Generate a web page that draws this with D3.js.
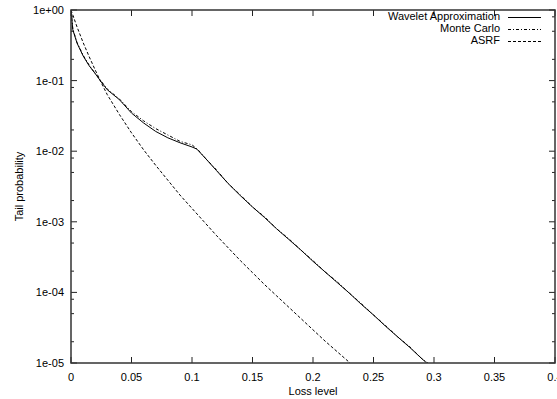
<!DOCTYPE html>
<html><head><meta charset="utf-8">
<script src="https://cdn.jsdelivr.net/npm/d3@7"></script>
<style>body{margin:0;background:#fff}svg{display:block}text{font-family:"Liberation Sans",Arial,sans-serif;font-size:11px;fill:#000}</style>
</head><body><svg id="c" width="557" height="399"></svg>
<script>
// x: loss level, values: log10 of tail probability
const xTicks = [0, 0.05, 0.1, 0.15, 0.2, 0.25, 0.3, 0.35, 0.4];
const xTickLabels = ["0", "0.05", "0.1", "0.15", "0.2", "0.25", "0.3", "0.35", "0.4"];
const yTicks = [1, 1e-1, 1e-2, 1e-3, 1e-4, 1e-5];
const yTickLabels = ["1e+00", "1e-01", "1e-02", "1e-03", "1e-04", "1e-05"];
const seriesNames = ["Wavelet Approximation", "Monte Carlo", "ASRF"];

const waveletX = [0, 0.0015, 0.005, 0.01, 0.015, 0.02, 0.025, 0.03, 0.04, 0.05, 0.06, 0.07, 0.08, 0.09, 0.1, 0.104, 0.11, 0.12, 0.13, 0.14, 0.15, 0.16, 0.17, 0.18, 0.19, 0.2, 0.21, 0.22, 0.23, 0.24, 0.25, 0.26, 0.27, 0.28, 0.29, 0.294];
const waveletLog = [0, -0.28, -0.47, -0.65, -0.79, -0.90, -1.02, -1.13, -1.27, -1.46, -1.60, -1.72, -1.81, -1.88, -1.94, -1.97, -2.08, -2.27, -2.46, -2.63, -2.79, -2.94, -3.10, -3.25, -3.40, -3.56, -3.71, -3.86, -4.01, -4.17, -4.32, -4.48, -4.63, -4.78, -4.94, -5.0];

const mcX = [0, 0.0015, 0.005, 0.01, 0.015, 0.02, 0.025, 0.03, 0.04, 0.05, 0.06, 0.07, 0.08, 0.09, 0.1, 0.105, 0.11, 0.12, 0.13, 0.14, 0.15, 0.16, 0.17, 0.18, 0.19, 0.2, 0.21, 0.22, 0.23, 0.24, 0.25, 0.26, 0.27, 0.28, 0.29, 0.295];
const mcLog = [0, -0.27, -0.46, -0.64, -0.78, -0.90, -1.01, -1.12, -1.26, -1.44, -1.57, -1.68, -1.77, -1.86, -1.91, -1.98, -2.08, -2.26, -2.46, -2.62, -2.79, -2.93, -3.10, -3.24, -3.40, -3.55, -3.71, -3.85, -4.01, -4.16, -4.32, -4.47, -4.63, -4.77, -4.94, -5.0];

const asrfX = [0, 0.005, 0.01, 0.015, 0.02, 0.025, 0.03, 0.04, 0.05, 0.06, 0.07, 0.08, 0.09, 0.1, 0.11, 0.12, 0.13, 0.14, 0.15, 0.16, 0.17, 0.18, 0.19, 0.2, 0.21, 0.22, 0.23, 0.2306];
const asrfLog = [0, -0.24, -0.46, -0.66, -0.85, -1.03, -1.2, -1.48, -1.74, -1.98, -2.2, -2.41, -2.62, -2.81, -3.0, -3.19, -3.37, -3.55, -3.72, -3.89, -4.05, -4.21, -4.37, -4.53, -4.69, -4.84, -4.99, -5.0];

const svg = d3.select("#c");
const L = 71, R = 555, T = 10, B = 363;
const x = d3.scaleLinear().domain([0, 0.4]).range([L, R]);
const y = d3.scaleLog().domain([1e-5, 1]).range([B, T]);

// minor y ticks
const minor = [];
for (let e = -5; e < 0; e++) for (const m of [2, 5, 8]) minor.push(m * Math.pow(10, e));

const g = svg.append("g");
g.selectAll(".ym").data(yTicks).join("path")
  .attr("d", d => `M${L},${y(d)}h6M${R},${y(d)}h-6`).attr("stroke", "#222").attr("stroke-width", 1);
g.selectAll(".yn").data(minor).join("path")
  .attr("d", d => `M${L},${y(d)}h3M${R},${y(d)}h-3`).attr("stroke", "#222").attr("stroke-width", 1);
g.selectAll(".xm").data(xTicks).join("path")
  .attr("d", d => `M${x(d)},${B}v-6M${x(d)},${T}v6`).attr("stroke", "#222").attr("stroke-width", 1);

svg.selectAll(".yl").data(yTicks).join("text")
  .attr("x", 64).attr("y", d => y(d) + 4).attr("text-anchor", "end")
  .text((d, i) => yTickLabels[i]);
svg.selectAll(".xl").data(xTicks).join("text")
  .attr("x", d => x(d)).attr("y", 381).attr("text-anchor", "middle")
  .text((d, i) => xTickLabels[i]);
svg.append("text").attr("x", (L + R) / 2).attr("y", 395).attr("text-anchor", "middle").text("Loss level");
svg.append("text").attr("transform", `translate(23,${(T + B) / 2}) rotate(-90)`).attr("text-anchor", "middle").text("Tail probability");

const line = d3.line().x(d => x(d[0])).y(d => y(Math.pow(10, d[1])));
svg.append("clipPath").attr("id", "pc").append("rect")
  .attr("x", L).attr("y", T - 1).attr("width", R - L).attr("height", B - T + 1);
const curves = [
  {xs: waveletX, ys: waveletLog, dash: null},
  {xs: mcX, ys: mcLog, dash: "3,2,1,2"},
  {xs: asrfX, ys: asrfLog, dash: "3,2"}
];
curves.forEach(c => {
  svg.append("path").datum(c.xs.map((v, i) => [v, c.ys[i]]))
    .attr("d", line).attr("fill", "none").attr("stroke", "#000").attr("stroke-width", 1)
    .attr("stroke-dasharray", c.dash).attr("clip-path", "url(#pc)");
});

svg.append("rect").attr("x", L).attr("y", T).attr("width", R - L).attr("height", B - T)
  .attr("fill", "none").attr("stroke", "#333").attr("stroke-width", 1.5);

const ly = [16, 28, 40];
seriesNames.forEach((n, i) => {
  svg.append("text").attr("x", 500).attr("y", ly[i] + 4).attr("text-anchor", "end").text(n);
  svg.append("line").attr("x1", 508).attr("x2", 541).attr("y1", ly[i] + 1.5).attr("y2", ly[i] + 1.5)
    .attr("stroke", "#000").attr("stroke-width", 1).attr("stroke-dasharray", curves[i].dash);
});
</script></body></html>
